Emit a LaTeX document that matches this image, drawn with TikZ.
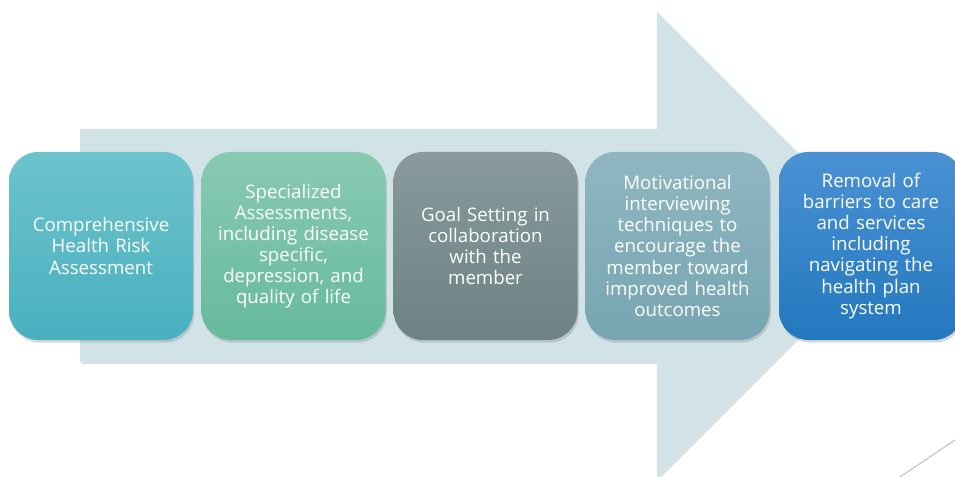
\documentclass[tikz,border=0pt]{standalone}
\usepackage{fontspec}
\setmainfont{Open Sans}
\usetikzlibrary{shadows}
\definecolor{arrowfill}{HTML}{D1E3E7}
\definecolor{oneTop}{HTML}{6DC3CC}
\definecolor{oneBot}{HTML}{49B0BF}
\definecolor{twoTop}{HTML}{88CAB1}
\definecolor{twoBot}{HTML}{67BA9C}
\definecolor{threeTop}{HTML}{889A9B}
\definecolor{threeBot}{HTML}{6D8284}
\definecolor{fourTop}{HTML}{90B7C1}
\definecolor{fourBot}{HTML}{76A5B1}
\definecolor{fiveTop}{HTML}{4B91D4}
\definecolor{fiveBot}{HTML}{2378BE}
\begin{document}
\begin{tikzpicture}[x=0.75pt,y=-0.75pt,
  stage/.style={rounded corners=22pt,minimum width=138pt,minimum height=141pt,
    text width=126pt,align=center,text=white,inner sep=0pt,
    font=\fontsize{14}{15.8}\selectfont,
    drop shadow={shadow xshift=1pt,shadow yshift=-2pt,opacity=0.3}}]
\useasboundingbox (0,0) rectangle (955,477);
\clip (0,0) rectangle (955,477);
% big arrow behind the stages
\fill[arrowfill,drop shadow={shadow xshift=1pt,shadow yshift=-1.5pt,opacity=0.25}]
  (80,129)--(657,129)--(657,12)--(890,245)--(657,478)--(657,362)--(80,362)--cycle;
% stages
\node[stage,top color=oneTop,bottom color=oneBot] (risk) at (101,246)
  {Comprehensive\\Health Risk\\Assessment};
\node[stage,top color=twoTop,bottom color=twoBot] (special) at (293.5,246)
  {Specialized\\Assessments,\\including disease\\specific,\\depression, and\\quality of life};
\node[stage,top color=threeTop,bottom color=threeBot] (goal) at (485.5,246)
  {Goal Setting in\\collaboration\\with the\\member};
\node[stage,top color=fourTop,bottom color=fourBot] (motiv) at (677.5,246)
  {Motivational\\interviewing\\techniques to\\encourage the\\member toward\\improved health\\outcomes};
\node[stage,top color=fiveTop,bottom color=fiveBot] (barrier) at (871,246)
  {Removal of\\barriers to care\\and services\\including\\navigating the\\health plan\\system};
% corner line
\coordinate (lineA) at (900,477);
\coordinate (lineB) at (955,440);
\draw[gray!60,line width=0.6pt] (lineA)--(lineB);
\end{tikzpicture}
\end{document}
